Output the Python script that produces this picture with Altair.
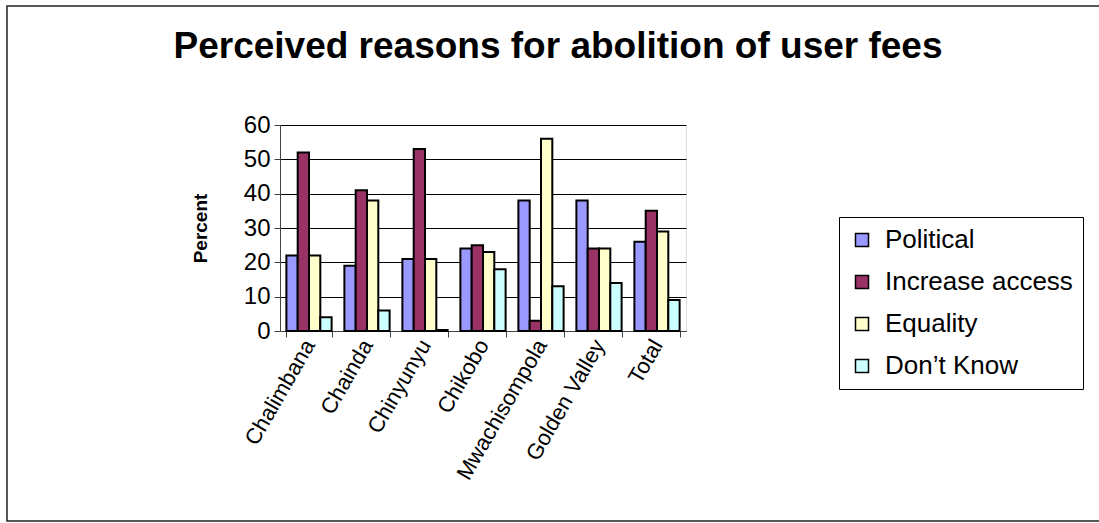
import altair as alt
import pandas as pd

categories = ["Chalimbana", "Chainda", "Chinyunyu", "Chikobo", "Mwachisompola", "Golden  Valley", "Total"]
series = ["Political", "Increase access", "Equality", "Don\u2019t Know"]
political = [22, 19, 21, 24, 38, 38, 26]
increase_access = [52, 41, 53, 25, 3, 24, 35]
equality = [22, 38, 21, 23, 56, 24, 29]
dont_know = [4, 6, 0.3, 18, 13, 14, 9]
colors = ["#9999FF", "#993366", "#FFFFCC", "#CCFFFF"]
y_ticks = [0, 10, 20, 30, 40, 50, 60]
title_text = "Perceived reasons for abolition of user fees"

rows = []
for s, vals in zip(series, [political, increase_access, equality, dont_know]):
    for c, v in zip(categories, vals):
        rows.append({"Site": c, "Reason": s, "Percent": v})
df = pd.DataFrame(rows)

FONT = "Liberation Sans"
W, H = 406, 206
PL, PT = 280, 125

bars = alt.Chart(df).mark_bar(stroke="black", strokeWidth=2).encode(
    x=alt.X("Site:N", sort=categories, title=None,
            scale=alt.Scale(paddingInner=0.22, paddingOuter=0.11),
            axis=alt.Axis(labelAngle=-60, labelFontSize=22, labelFont=FONT,
                          labelColor="black", domainColor="#444", tickColor="#444",
                          tickSize=6, tickBand="extent", labelPadding=4)),
    xOffset=alt.XOffset("Reason:N", sort=series),
    y=alt.Y("Percent:Q", title="Percent",
            scale=alt.Scale(domain=[0, 60]),
            axis=alt.Axis(values=y_ticks, labelFontSize=24, labelFont=FONT,
                          labelColor="black", titleFont=FONT, titleFontSize=19,
                          titleFontWeight="bold", titleColor="black",
                          titlePadding=33, domainColor="#444", tickColor="#444",
                          tickSize=6, labelPadding=4, grid=True,
                          gridColor="black", gridWidth=1)),
    color=alt.Color("Reason:N", sort=series,
                    scale=alt.Scale(domain=series, range=colors),
                    legend=alt.Legend(title=None, orient="none", legendX=559, legendY=92,
                                      labelFont=FONT, labelFontSize=26, labelColor="black",
                                      labelLimit=400,
                                      symbolType="square", symbolSize=169,
                                      symbolStrokeColor="black", symbolStrokeWidth=1.5,
                                      strokeColor="black", padding=10, rowPadding=16,
                                      labelOffset=10, offset=0)),
)

title = alt.Chart(pd.DataFrame({"t": [title_text]})).mark_text(
    font=FONT, fontSize=37, fontWeight="bold", color="black",
    align="center", baseline="alphabetic", clip=False
).encode(text="t:N", x=alt.value(558 - PL), y=alt.value(58 - PT))

frame = alt.Chart(pd.DataFrame({"a": [0]})).mark_rect(
    fill=None, stroke="#222", strokeWidth=1.5, clip=False
).encode(
    x=alt.value(7 - PL), x2=alt.value(1110 - PL),
    y=alt.value(6 - PT), y2=alt.value(521 - PT),
)

chart = alt.layer(frame, bars, title).properties(
    width=W, height=H,
    padding={"left": PL, "top": PT, "right": 1099 - PL - W, "bottom": 523 - PT - H},
    autosize=alt.AutoSizeParams(type="none"),
).configure_view(fill="#C0C0C0", stroke=None).configure(background="white")

chart.save("out.html", embed_options={"renderer": "svg", "actions": False})
